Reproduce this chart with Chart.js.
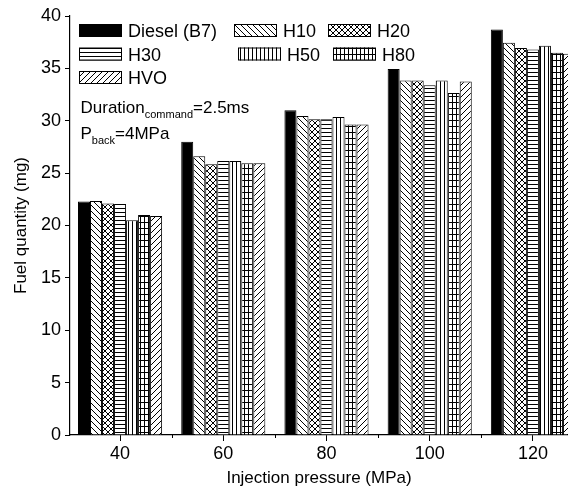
<!DOCTYPE html>
<html>
<head>
<meta charset="utf-8">
<script src="https://cdn.jsdelivr.net/npm/chart.js@4/dist/chart.umd.min.js"></script>
<style>
body { margin: 0; background: #fff; overflow: hidden; }
</style>
</head>
<body>
<canvas id="fuel-chart" width="568" height="492"></canvas>
<script>
/*****************************  Data  ********************************/
var pressures = [40, 60, 80, 100, 120];
var minorTicks = [50, 70, 90, 110];
var fuelNames = ['Diesel (B7)', 'H10', 'H20', 'H30', 'H50', 'H80', 'HVO'];
var diesel = [22.3, 28.0, 31.0, 34.95, 38.7];
var h10 = [22.35, 26.6, 30.45, 33.85, 37.45];
var h20 = [22.1, 25.85, 30.15, 33.85, 36.95];
var h30 = [22.05, 26.15, 30.15, 33.4, 36.8];
var h50 = [20.5, 26.15, 30.35, 33.85, 37.15];
var h80 = [21.0, 25.95, 29.65, 32.65, 36.5];
var hvo = [20.9, 25.95, 29.65, 33.75, 36.4];
var fuelSeries = [diesel, h10, h20, h30, h50, h80, hvo];
var fuelFills = ['solid', 'back', 'cross', 'hline', 'vline', 'grid', 'fwd'];

var fontFamily = '"Liberation Sans", Arial, sans-serif';

/*****************************  Patterns  ****************************/
function makePattern(kind) {
    if (kind == 'solid') return '#000';
    var w = 6, h = 6;
    if (kind == 'hline' || kind == 'vline') { w = 4; h = 4; }
    if (kind == 'grid') { w = 4; h = 6; }
    var c = document.createElement('canvas');
    c.width = w; c.height = h;
    var g = c.getContext('2d');
    g.fillStyle = '#fff';
    g.fillRect(0, 0, w, h);
    g.strokeStyle = '#000';
    g.lineWidth = 1;
    g.beginPath();
    for (var k = -1; k <= 1; k++) {
        if (kind == 'back' || kind == 'cross') {
            g.moveTo(k * w, 0); g.lineTo(k * w + w, h);
        }
        if (kind == 'fwd' || kind == 'cross') {
            g.moveTo(k * w, h); g.lineTo(k * w + w, 0);
        }
    }
    if (kind == 'hline' || kind == 'grid') { g.moveTo(0, 0.5); g.lineTo(w, 0.5); }
    if (kind == 'vline' || kind == 'grid') { g.moveTo(0.5, 0); g.lineTo(0.5, h); }
    g.stroke();
    return document.createElement('canvas').getContext('2d').createPattern(c, 'repeat');
}

/*****************************  Plugin  ******************************/
// legend slots: [dx from plot left, row]
var legendSlots = [[9, 0], [164, 0], [258, 0], [9, 1], [168, 1], [263, 1], [9, 2]];

function drawSubText(ctx, x, y, main, sub, rest) {
    ctx.font = '17px ' + fontFamily;
    ctx.fillText(main, x, y);
    x += ctx.measureText(main).width;
    ctx.font = '11px ' + fontFamily;
    ctx.fillText(sub, x, y + 5);
    x += ctx.measureText(sub).width;
    ctx.font = '17px ' + fontFamily;
    ctx.fillText(rest, x, y);
}

var extras = {
    id: 'extras',
    afterDraw: function(chart) {
        var ctx = chart.ctx;
        var area = chart.chartArea;
        var xs = chart.scales.x;
        ctx.save();
        // minor ticks on x
        ctx.strokeStyle = '#000';
        ctx.lineWidth = 1;
        ctx.beginPath();
        for (var i = 0; i < minorTicks.length; i++) {
            var px = Math.round(xs.getPixelForValue(minorTicks[i])) + 0.5;
            ctx.moveTo(px, area.bottom);
            ctx.lineTo(px, area.bottom + 3);
        }
        ctx.stroke();
        // legend
        ctx.textBaseline = 'alphabetic';
        ctx.fillStyle = '#000';
        for (var j = 0; j < chart.data.datasets.length; j++) {
            var ds = chart.data.datasets[j];
            var sx = area.left + legendSlots[j][0];
            var base = area.top + 21 + legendSlots[j][1] * 23.5;
            ctx.fillStyle = ds.backgroundColor;
            ctx.fillRect(sx, base - 13, 43, 13);
            ctx.strokeStyle = '#000';
            ctx.strokeRect(sx + 0.5, base - 12.5, 42, 12);
            ctx.fillStyle = '#000';
            ctx.font = '18px ' + fontFamily;
            ctx.fillText(ds.label, sx + 49, base);
        }
        // conditions
        drawSubText(ctx, area.left + 10.5, area.top + 97, 'Duration', 'command', '=2.5ms');
        drawSubText(ctx, area.left + 10.5, area.top + 123, 'P', 'back', '=4MPa');
        ctx.restore();
    }
};

/*****************************  Chart  *******************************/
var datasets = [];
for (var i = 0; i < fuelNames.length; i++) {
    var pts = [];
    for (var k = 0; k < pressures.length; k++) {
        pts.push({x: pressures[k], y: fuelSeries[i][k]});
    }
    datasets.push({
        label: fuelNames[i],
        data: pts,
        backgroundColor: makePattern(fuelFills[i]),
        borderColor: '#000',
        borderWidth: 1,
        categoryPercentage: 0.815,
        barPercentage: 1.0
    });
}

var ctx = document.getElementById('fuel-chart');
var barChart = new Chart(ctx, {
    type: 'bar',
    data: { datasets: datasets },
    plugins: [extras],
    options: {
        responsive: false,
        animation: false,
        layout: { padding: { top: 16, right: 0, left: 0, bottom: 0 } },
        plugins: {
            legend: { display: false },
            tooltip: { enabled: false }
        },
        scales: {
            x: {
                type: 'linear',
                offset: false,
                min: 30.3,
                max: 126.8,
                afterBuildTicks: function(scale) {
                    scale.ticks = pressures.map(function(v) { return {value: v}; });
                },
                afterFit: function(scale) { scale.height = 57; },
                grid: { display: true, drawOnChartArea: false, drawTicks: true, tickLength: 6, offset: false, color: '#000' },
                border: { display: true, color: '#000', width: 1.2 },
                ticks: { color: '#000', font: { size: 18, family: fontFamily }, padding: 2, maxRotation: 0, autoSkip: false },
                title: { display: true, text: 'Injection pressure (MPa)', color: '#000', font: { size: 17, family: fontFamily }, padding: { top: 3, bottom: 3 } }
            },
            y: {
                min: 0,
                max: 40,
                afterFit: function(scale) { scale.width = 70; },
                grid: { display: true, drawOnChartArea: false, drawTicks: true, tickLength: 5, color: '#000' },
                border: { display: true, color: '#000', width: 1.2 },
                ticks: { stepSize: 5, color: '#000', font: { size: 18, family: fontFamily }, padding: 4 },
                title: { display: true, text: 'Fuel quantity (mg)', color: '#000', font: { size: 17, family: fontFamily }, padding: { top: 11, bottom: 11 } }
            }
        }
    }
});
</script>
</body>
</html>
